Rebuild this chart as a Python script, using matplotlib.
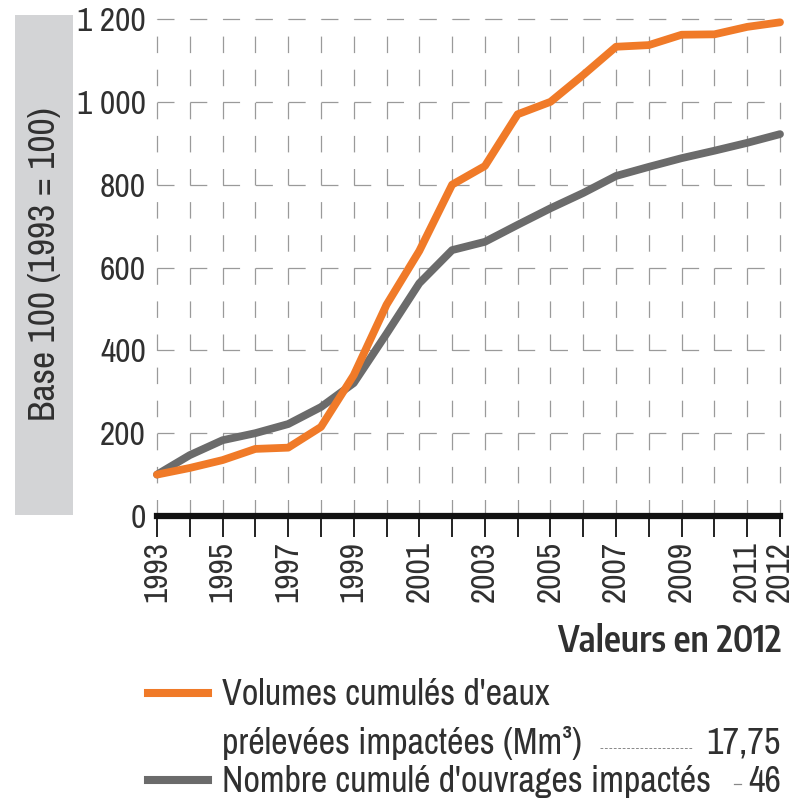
import matplotlib
matplotlib.use("Agg")
import matplotlib.pyplot as plt
from matplotlib.lines import Line2D
from matplotlib.patches import Rectangle

plt.rcParams['font.family'] = ['Archivo Narrow', 'DejaVu Sans']
plt.rcParams['lines.scale_dashes'] = False

years = list(range(1993, 2013))
volumes = [100, 116, 135, 162, 165, 215, 340, 510, 640, 800, 845, 970, 1000,
           1065, 1133, 1137, 1162, 1163, 1181, 1192]
ouvrages = [100, 147, 183, 200, 222, 263, 321, 440, 562, 642, 662, 703, 743,
            780, 821, 843, 864, 882, 901, 922]
ytick_vals = [0, 200, 400, 600, 800, 1000, 1200]
ytick_labels = ['0', '200', '400', '600', '800', '1 000', '1 200']
xtick_label_years = [1993, 1995, 1997, 1999, 2001, 2003, 2005, 2007, 2009, 2011, 2012]

ylabel = 'Base 100 (1993 = 100)'
legend_title = 'Valeurs en 2012'
leg1_line1 = "Volumes cumulés d'eaux"
leg1_line2 = 'prélevées impactées (Mm³)'
leg1_value = '17,75'
leg2_text = "Nombre cumulé d'ouvrages impactés"
leg2_value = '46'

ORANGE = '#F07A28'
GREY = '#6B6B6B'
TEXT = '#303030'
GRID = '#9A9A9A'

W, H = 796, 801
fig = plt.figure(figsize=(W / 100, H / 100), dpi=100)

def fx(px):
    return px / W

def fy(py):
    return 1 - py / H

x0, x1 = 157, 780
y0, y1 = 516, 19
ax = fig.add_axes([fx(x0), fy(y0), fx(x1) - fx(x0), fy(y1) - fy(y0)])
ax.set_xlim(1993, 2012)
ax.set_ylim(0, 1200)
for s in ax.spines.values():
    s.set_visible(False)
ax.patch.set_alpha(0)

px_year = (x1 - x0) / 19.0
pt = 72 / 100.0
hdash = (0, (17 * pt, (px_year - 17) * pt))
vdash = (0, (16.5 * pt, 16.6 * pt))

for v in ytick_vals[1:]:
    ax.plot([1993, 2012], [v, v], color=GRID, lw=0.9, linestyle=hdash,
            clip_on=False, zorder=1)
for yr in years:
    ax.plot([yr, yr], [0, 1200], color=GRID, lw=0.9, linestyle=vdash,
            clip_on=False, zorder=1)

ax.plot(years, ouvrages, color=GREY, lw=5.6, solid_capstyle='round',
        solid_joinstyle='round', zorder=3, clip_on=False)
ax.plot(years, volumes, color=ORANGE, lw=5.6, solid_capstyle='round',
        solid_joinstyle='round', zorder=4, clip_on=False)

ax.axhline(0, color='#111111', lw=4.5, zorder=5, clip_on=False)

ax.set_yticks(ytick_vals)
ax.set_yticklabels(ytick_labels, fontsize=24, color=TEXT)
ax.tick_params(axis='y', length=0, pad=8)

ax.set_xticks(years)
ax.set_xticklabels([str(y) if y in xtick_label_years else '' for y in years],
                   rotation=90, fontsize=24, color=TEXT)
ax.tick_params(axis='x', length=15, width=1.3, color='#111111', pad=3,
               direction='out')

fig.patches.append(Rectangle((fx(15), fy(515)), fx(73) - fx(15), fy(15) - fy(515),
                             transform=fig.transFigure, facecolor='#D3D4D6',
                             edgecolor='none', zorder=0))
fig.text(fx(45), fy(264), ylabel, rotation=90, ha='center', va='center',
         fontsize=27, color=TEXT)

fig.text(fx(781), fy(652), legend_title, ha='right', va='baseline',
         fontsize=26, fontweight='semibold', color=TEXT,
         family=['Encode Sans Condensed', 'Archivo Narrow', 'DejaVu Sans'])

fig.add_artist(Line2D([fx(148), fx(208)], [fy(693), fy(693)], color=ORANGE,
                      lw=5.8, transform=fig.transFigure))
fig.text(fx(222), fy(705), leg1_line1, ha='left', va='baseline', fontsize=26, color=TEXT)
fig.text(fx(222), fy(754), leg1_line2, ha='left', va='baseline', fontsize=26, color=TEXT)
fig.add_artist(Line2D([fx(600), fx(693)], [fy(748), fy(748)], color='#888888',
                      lw=0.7, linestyle=(0, (2, 1.2)), transform=fig.transFigure))
fig.text(fx(781), fy(754), leg1_value, ha='right', va='baseline', fontsize=26, color=TEXT)

fig.add_artist(Line2D([fx(148), fx(208)], [fy(780), fy(780)], color=GREY,
                      lw=5.8, transform=fig.transFigure))
fig.text(fx(222), fy(792), leg2_text, ha='left', va='baseline', fontsize=26, color=TEXT)
fig.add_artist(Line2D([fx(734), fx(741)], [fy(784), fy(784)], color='#888888',
                      lw=0.9, transform=fig.transFigure))
fig.text(fx(781), fy(792), leg2_value, ha='right', va='baseline', fontsize=26, color=TEXT)

fig.savefig('out.png', dpi=100)
